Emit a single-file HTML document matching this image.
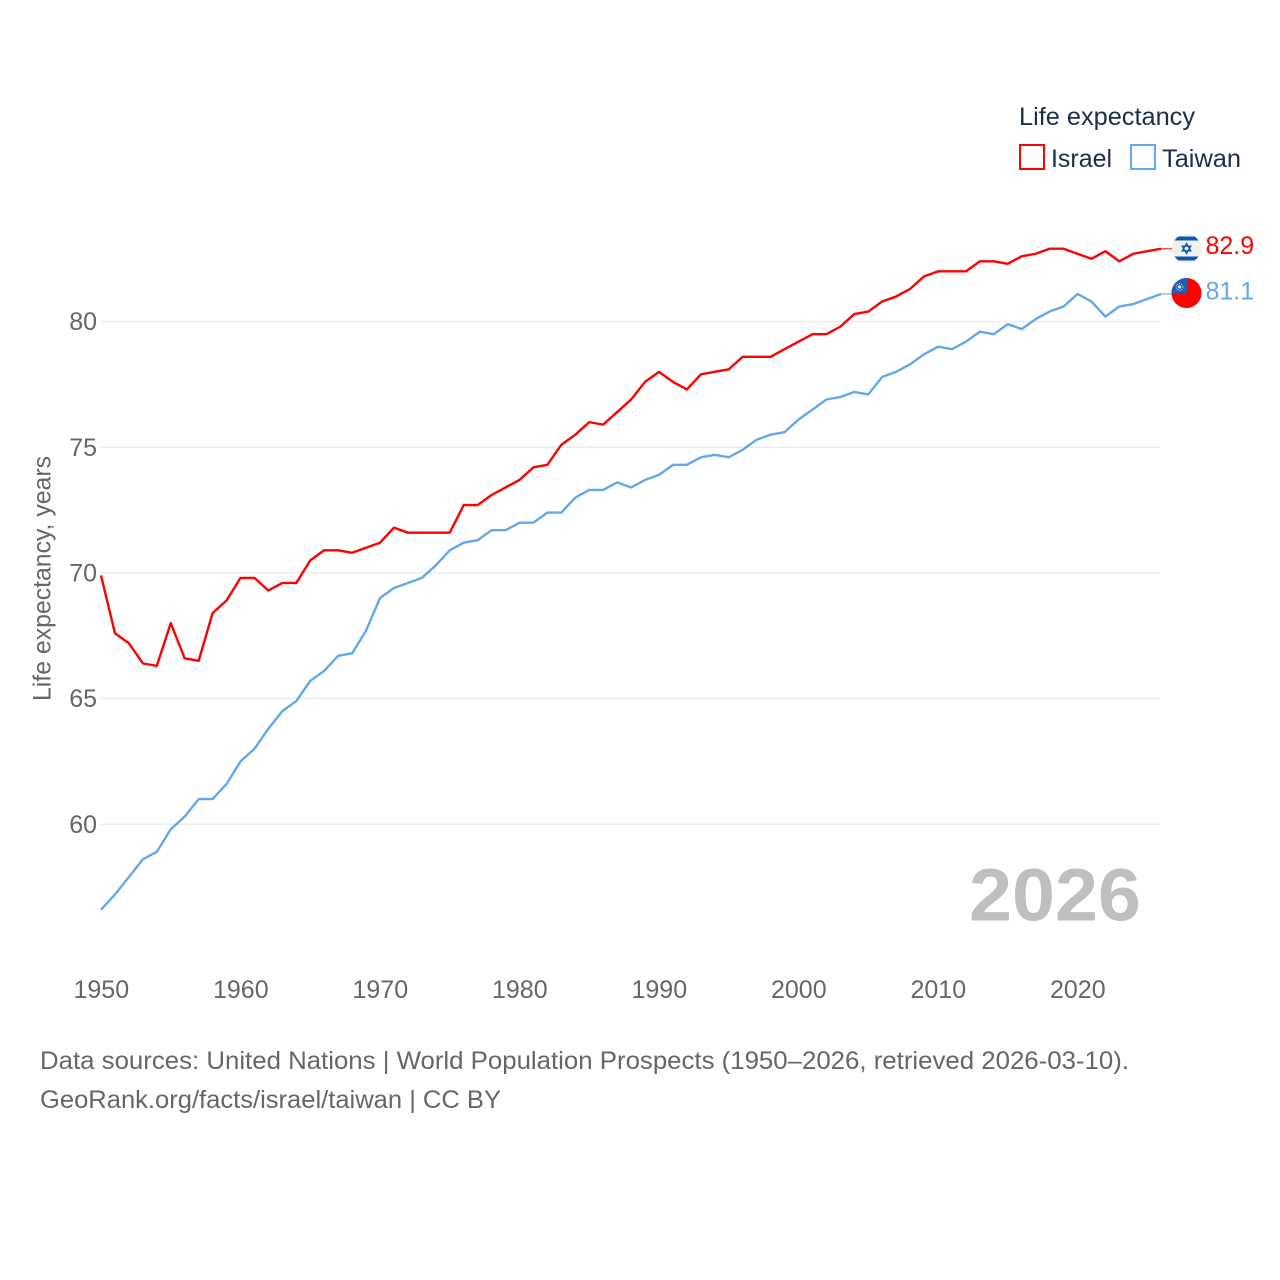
<!DOCTYPE html>
<html lang="en">
<head>
<meta charset="utf-8">
<title>Life expectancy: Israel and Taiwan</title>
<style>
html,body{margin:0;padding:0;background:#fff;}
svg{display:block;font-family:"Liberation Sans",sans-serif;}
</style>
</head>
<body>
<svg id="chart" xmlns="http://www.w3.org/2000/svg" width="1280" height="1280" viewBox="0 0 1280 1280">
  <defs>
    <clipPath id="flag-il-clip"><circle cx="1186.5" cy="248.5" r="14.5"/></clipPath>
    <clipPath id="flag-tw-clip"><circle cx="1186.5" cy="293" r="15"/></clipPath>
  </defs>
  <rect width="1280" height="1280" fill="#fff"/>
  <g id="grid"></g>
  <g id="yticks"></g>
  <g id="xticks"></g>
  <text transform="translate(50.5,701) rotate(-90)" font-size="25" fill="#666" textLength="245" lengthAdjust="spacingAndGlyphs">Life expectancy, years</text>
  <text x="969" y="920.5" font-size="74" font-weight="700" fill="#bfbfbf" textLength="172" lengthAdjust="spacingAndGlyphs">2026</text>
  <g id="series"></g>

  <g clip-path="url(#flag-il-clip)">
    <rect x="1172" y="234" width="30" height="30" fill="#f0f0f0"/>
    <rect x="1172" y="236.5" width="30" height="4" fill="#0f55b5"/>
    <rect x="1172" y="256.5" width="30" height="4" fill="#0f55b5"/>
    <polygon points="1186.5,243.5 1190.8,250.8 1182.2,250.8" fill="none" stroke="#0f55b5" stroke-width="1.3"/>
    <polygon points="1186.5,253.5 1190.8,246.2 1182.2,246.2" fill="none" stroke="#0f55b5" stroke-width="1.3"/>
  </g>
  <g clip-path="url(#flag-tw-clip)">
    <rect x="1171" y="277" width="32" height="32" fill="#fe0000"/>
    <rect x="1171" y="277" width="16" height="16.5" fill="#1d5fb0"/>
    <circle cx="1179.5" cy="287" r="1.6" fill="#dfe9f6"/>
    <circle cx="1179.5" cy="287" r="3.4" fill="none" stroke="#c5d8f0" stroke-width="0.9" stroke-dasharray="1.2 1"/>
  </g>
  <g id="endlabels"></g>

  <g>
    <text x="1019" y="125" font-size="25" fill="#1a2e4d" textLength="176" lengthAdjust="spacingAndGlyphs">Life expectancy</text>
    <g>
      <rect x="1020" y="145" width="24" height="24" fill="#fff" stroke="#fe0000" stroke-width="2"/>
      <text x="1051" y="167" font-size="25" fill="#1a2e4d" textLength="61" lengthAdjust="spacingAndGlyphs">Israel</text>
    </g>
    <g>
      <rect x="1131" y="145" width="24" height="24" fill="#fff" stroke="#62a8ea" stroke-width="2"/>
      <text x="1162" y="167" font-size="25" fill="#1a2e4d" textLength="79" lengthAdjust="spacingAndGlyphs">Taiwan</text>
    </g>
  </g>

  <text x="40" y="1069" font-size="25" fill="#666" textLength="1089" lengthAdjust="spacingAndGlyphs">Data sources: United Nations | World Population Prospects (1950–2026, retrieved 2026-03-10).</text>
  <text x="40" y="1108" font-size="25" fill="#666" textLength="461" lengthAdjust="spacingAndGlyphs">GeoRank.org/facts/israel/taiwan | CC BY</text>
</svg>
<script>
const startYear = 1950;
const israelValues = [69.9,67.6,67.2,66.4,66.3,68.0,66.6,66.5,68.4,68.9,
  69.8,69.8,69.3,69.6,69.6,70.5,70.9,70.9,70.8,71.0,
  71.2,71.8,71.6,71.6,71.6,71.6,72.7,72.7,73.1,73.4,
  73.7,74.2,74.3,75.1,75.5,76.0,75.9,76.4,76.9,77.6,
  78.0,77.6,77.3,77.9,78.0,78.1,78.6,78.6,78.6,78.9,
  79.2,79.5,79.5,79.8,80.3,80.4,80.8,81.0,81.3,81.8,
  82.0,82.0,82.0,82.4,82.4,82.3,82.6,82.7,82.9,82.9,
  82.7,82.5,82.8,82.4,82.7,82.8,82.9];
const taiwanValues = [56.6,57.2,57.9,58.6,58.9,59.8,60.3,61.0,61.0,61.6,
  62.5,63.0,63.8,64.5,64.9,65.7,66.1,66.7,66.8,67.7,
  69.0,69.4,69.6,69.8,70.3,70.9,71.2,71.3,71.7,71.7,
  72.0,72.0,72.4,72.4,73.0,73.3,73.3,73.6,73.4,73.7,
  73.9,74.3,74.3,74.6,74.7,74.6,74.9,75.3,75.5,75.6,
  76.1,76.5,76.9,77.0,77.2,77.1,77.8,78.0,78.3,78.7,
  79.0,78.9,79.2,79.6,79.5,79.9,79.7,80.1,80.4,80.6,
  81.1,80.8,80.2,80.6,80.7,80.9,81.1];
const yTickValues = [60,65,70,75,80];
const xTickYears = [1950,1960,1970,1980,1990,2000,2010,2020];

const NS = 'http://www.w3.org/2000/svg';
const xScale = function (year) { return 101 + (year - 1950) * 13.95; };
const yScale = function (value) { return 321.6 + (80 - value) * 25.13; };

function make(tag, attrs, text) {
  const el = document.createElementNS(NS, tag);
  Object.keys(attrs).forEach(function (k) { el.setAttribute(k, attrs[k]); });
  if (text !== undefined) el.textContent = text;
  return el;
}

const grid = document.getElementById('grid');
const yticks = document.getElementById('yticks');
yTickValues.forEach(function (v) {
  const line = make('line', {x1: 101, x2: 1161, y1: yScale(v), y2: yScale(v), stroke: '#ececec', 'stroke-width': 1.5});
  
  
  grid.appendChild(line);
  const label = make('text', {x: 97, y: yScale(v) + 8.6, 'font-size': 25, fill: '#666', 'text-anchor': 'end'}, String(v));
  
  
  yticks.appendChild(label);
});

const xticks = document.getElementById('xticks');
xTickYears.forEach(function (y) {
  const label = make('text', {x: xScale(y) + 0.3, y: 998, 'font-size': 25, fill: '#666', 'text-anchor': 'middle'}, String(y));
  
  
  xticks.appendChild(label);
});

function linePoints(values) {
  return values.map(function (v, i) {
    return xScale(startYear + i).toFixed(2) + ',' + yScale(v).toFixed(2);
  }).join(' ');
}

const seriesGroup = document.getElementById('series');
const endlabels = document.getElementById('endlabels');

const israelLine = make('polyline', {points: linePoints(israelValues), fill: 'none', stroke: '#fe0000', 'stroke-width': 2.4, 'stroke-linejoin': 'round'});


seriesGroup.appendChild(israelLine);

const taiwanLine = make('polyline', {points: linePoints(taiwanValues), fill: 'none', stroke: '#62a8ea', 'stroke-width': 2.4, 'stroke-linejoin': 'round'});


seriesGroup.appendChild(taiwanLine);

const lastIsrael = israelValues[israelValues.length - 1];
const lastTaiwan = taiwanValues[taiwanValues.length - 1];
const lastX = xScale(startYear + israelValues.length - 1);

const israelLead = make('line', {x1: lastX, x2: 1172, y1: yScale(lastIsrael), y2: yScale(lastIsrael), stroke: '#fe0000', 'stroke-width': 1.5, opacity: 0.7});


seriesGroup.appendChild(israelLead);

const taiwanLead = make('line', {x1: lastX, x2: 1172, y1: yScale(lastTaiwan), y2: yScale(lastTaiwan), stroke: '#62a8ea', 'stroke-width': 1.5, opacity: 0.7});


seriesGroup.appendChild(taiwanLead);

const israelValueLabel = make('text', {x: 1205.5, y: yScale(lastIsrael) + 5.4, 'font-size': 25, fill: '#fe0000'}, lastIsrael.toFixed(1));


endlabels.appendChild(israelValueLabel);

const taiwanValueLabel = make('text', {x: 1205.5, y: yScale(lastTaiwan) + 5.4, 'font-size': 25, fill: '#62a8ea'}, lastTaiwan.toFixed(1));


endlabels.appendChild(taiwanValueLabel);
</script>
</body>
</html>
